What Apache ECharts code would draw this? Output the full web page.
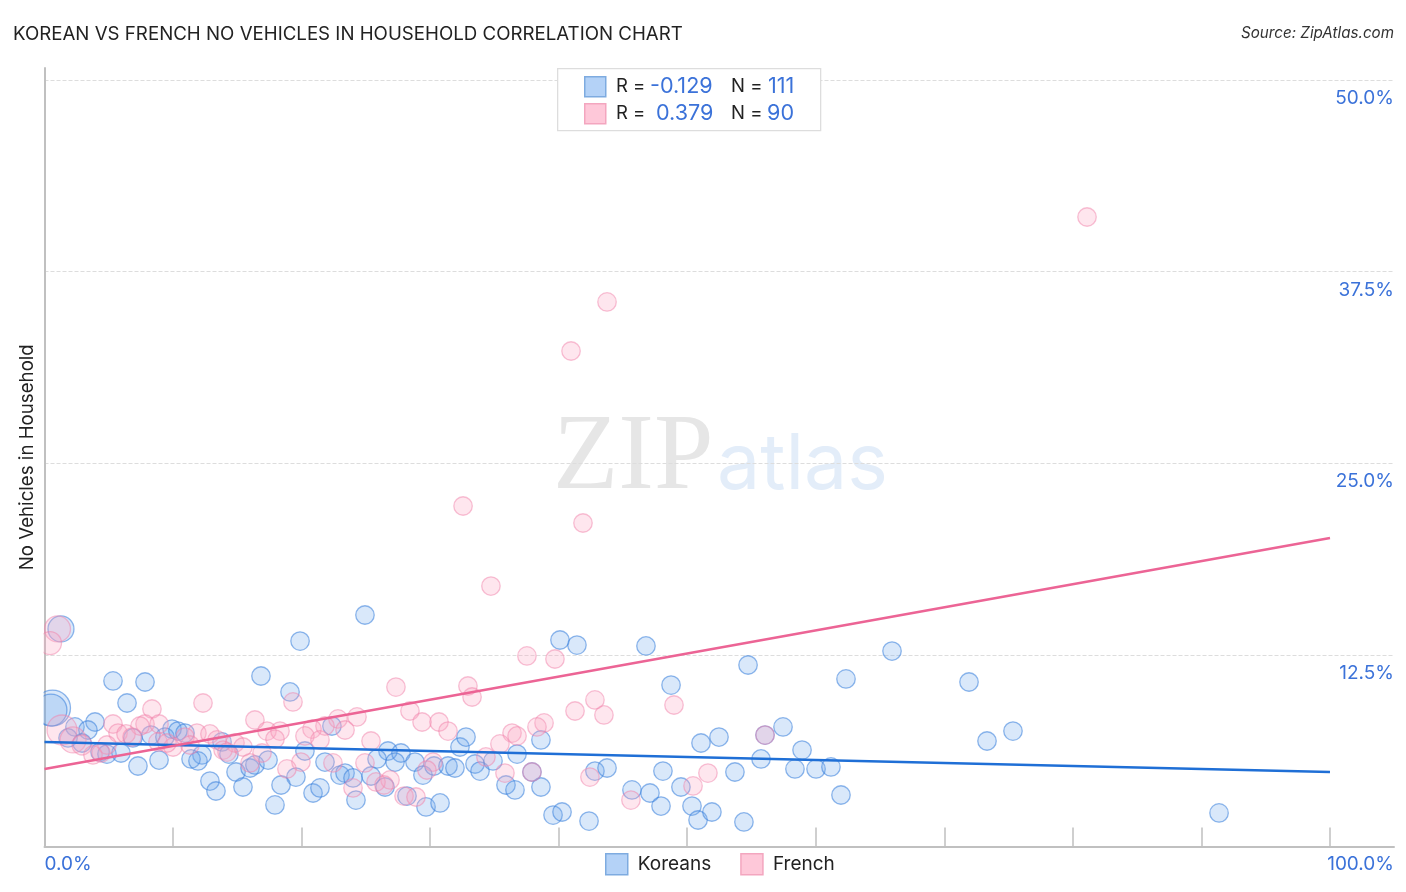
<!DOCTYPE html>
<html>
<head>
<meta charset="utf-8">
<style>html,body{margin:0;padding:0;background:#fff}#chart{width:1406px;height:892px}</style>
<script src="https://cdn.jsdelivr.net/npm/echarts@6/dist/echarts.min.js"></script>
</head>
<body>
<div id="chart"></div>
<script>
var koreanLargeX = [0.62, 0.5, 1.28];
var koreanLargeY = [9.03, 8.9, 14.19];
var koreanX = [24.93,19.88,5.33,7.82,16.84,6.42,19.10,3.93,2.37,3.38,1.83,2.92,4.32,4.86,5.95,7.27,8.91,8.28,6.88,9.92,9.37,10.38,10.93,12.25,11.40,11.94,12.87,13.34,14.90,15.44,13.81,14.35,15.99,16.37,17.39,20.26,19.56,18.40,17.93,20.89,21.43,21.82,22.36,22.99,23.38,24.00,24.23,25.40,26.72,27.73,25.87,27.27,28.82,26.49,28.20,29.68,30.77,29.44,30.30,31.39,31.93,32.32,32.79,33.49,33.88,34.89,36.76,35.90,36.60,38.62,37.92,38.62,40.10,41.42,46.79,48.74,39.56,40.26,42.36,42.82,43.76,45.70,47.10,47.96,48.11,49.51,50.37,50.84,51.07,51.92,54.41,53.71,52.47,54.73,55.74,56.05,57.45,58.38,58.93,60.02,61.18,61.96,62.35,65.93,71.92,73.32,75.34,91.37];
var koreanY = [15.10,13.40,10.80,10.73,11.12,9.36,10.08,8.12,7.80,7.60,7.08,6.75,6.16,6.03,6.10,5.25,5.64,7.27,7.08,7.66,7.14,7.53,7.40,5.97,5.71,5.58,4.27,3.62,4.86,3.88,6.82,6.03,5.12,5.32,5.64,6.23,4.53,4.01,2.71,3.49,3.82,5.51,7.86,4.66,4.79,4.47,3.03,4.60,6.23,6.10,5.71,5.51,5.51,3.88,3.29,2.58,2.84,4.66,5.25,5.25,5.12,6.49,7.14,5.38,4.92,5.58,6.03,4.01,3.69,6.95,4.86,3.88,13.47,13.14,13.08,10.53,2.05,2.25,1.66,4.92,5.12,3.69,3.49,2.64,4.92,3.88,2.64,1.73,6.75,2.25,1.60,4.86,7.14,11.84,5.71,7.27,7.80,5.06,6.29,5.06,5.19,3.36,10.93,12.75,10.73,6.88,7.53,2.19];
var frenchLargeX = [1.01, 0.43, 1.36, 2.22, 2.92];
var frenchLargeY = [14.19, 13.27, 7.60, 6.95, 6.62];
var frenchX = [5.33,8.36,12.33,19.33,16.37,7.82,7.43,8.91,5.72,6.34,6.81,11.86,12.87,17.31,18.32,17.93,22.83,24.31,21.82,23.38,20.81,20.26,21.43,25.40,4.86,3.77,4.40,8.83,10.00,9.53,10.93,11.32,13.42,14.82,15.44,13.89,14.20,15.99,16.92,19.95,18.86,22.44,24.93,24.00,27.34,28.43,29.37,30.69,31.39,32.94,33.26,37.53,39.71,42.82,41.27,43.52,48.97,38.86,38.31,36.37,36.76,35.43,34.34,26.88,25.79,26.41,27.97,28.90,30.22,29.75,35.82,37.92,42.43,45.62,50.45,51.61,56.05,81.10,43.76,40.96,32.56,41.89,34.73];
var frenchY = [7.99,8.97,9.36,9.43,8.25,7.99,7.86,7.99,7.40,7.34,7.14,7.40,7.34,7.53,7.53,7.01,8.32,8.45,7.86,7.60,7.66,7.21,6.95,6.88,6.62,5.97,6.10,6.82,6.49,6.75,7.14,6.62,6.95,6.75,6.49,6.29,6.16,5.45,6.10,5.51,5.06,5.45,5.45,3.82,10.40,8.84,8.12,8.12,7.53,10.47,9.75,12.43,12.23,9.56,8.84,8.58,9.23,8.06,7.80,7.40,7.21,6.69,5.84,4.34,4.21,4.01,3.29,3.23,5.51,4.99,4.79,4.86,4.53,3.03,3.95,4.79,7.27,41.06,35.52,32.32,22.21,21.10,16.99];
var koreanTrendX = [0, 100];
var koreanTrendY = [6.82, 4.86];
var frenchTrendX = [0, 100];
var frenchTrendY = [5.06, 20.12];
var yTicks = [12.5, 25, 37.5, 50];
var xTicks = [10, 20, 30, 40, 50, 60, 70, 80, 90, 100];

var fontName = 'Inter';
var labelBlue = '#3b72d9';
var koreanLargeSizes = [36, 32, 26];
var frenchLargeSizes = [26, 23, 30, 26, 20];

function pairs(xs, ys) {
	var out = [];
	for (var i = 0; i < xs.length; i++) {
		out.push([xs[i], ys[i]]);
	}
	return out;
}

var koreanStyle = {color: 'rgba(110,165,235,0.32)', borderColor: 'rgba(60,130,220,0.72)', borderWidth: 1.3};
var frenchStyle = {color: 'rgba(250,165,192,0.34)', borderColor: 'rgba(240,130,170,0.62)', borderWidth: 1.3};

function scatterSeries(name, data, size, style) {
	return {name: name, type: 'scatter', data: data, symbolSize: size, itemStyle: style, z: 3};
}
function trendSeries(name, data, color) {
	return {name: name, type: 'line', data: data, symbol: 'none', silent: true, z: 4, lineStyle: {color: color, width: 2.6}};
}
function indexedSize(sizes) {
	return function (val, params) { return sizes[params.dataIndex]; };
}

function legendLabel(x, y, text) {
	return {type: 'text', left: x, top: y + 1.5, z: 11, style: {text: text, fill: '#222', font: '18.5px ' + fontName}};
}
function legendValue(x, y, text) {
	return {type: 'text', left: x, top: y, z: 11, style: {text: text, fill: labelBlue, font: '21.6px ' + fontName}};
}
function legendSwatch(x, y, fill, stroke) {
	return {type: 'rect', left: x, top: y, z: 11, shape: {width: 21, height: 20}, style: {fill: fill, stroke: stroke, lineWidth: 1.5}};
}

var option = {
	animation: false,
	backgroundColor: '#fff',
	textStyle: {fontFamily: fontName},
	grid: {left: 44.5, right: 12, top: 68, bottom: 45.5},
	legend: {
		left: 600, top: 848, itemWidth: 22, itemHeight: 21, itemGap: 29,
		icon: 'rect',
		textStyle: {fontFamily: fontName, fontSize: 19, color: '#222', padding: [0, 0, 0, 5]},
		data: [
			{name: 'Koreans', itemStyle: {color: '#b4d2f7', borderColor: '#7eabe0', borderWidth: 1.5, opacity: 1}},
			{name: 'French', itemStyle: {color: '#fec8d9', borderColor: '#f3a6bf', borderWidth: 1.5, opacity: 1}}
		]
	},
	xAxis: {
		type: 'value', min: 0, max: 104.98,
		splitLine: {show: false},
		axisLine: {show: true, lineStyle: {color: '#c0c0c0', width: 2}},
		axisTick: {show: true, inside: true, length: 19, customValues: xTicks, lineStyle: {color: '#c0c0c0', width: 1.5}},
		axisLabel: {
			customValues: [0, 104.98], margin: 8,
			alignMinLabel: 'left', alignMaxLabel: 'right',
			color: labelBlue, fontSize: 19, fontFamily: fontName,
			formatter: function (v) { return v === 0 ? '0.0%' : '100.0%'; }
		}
	},
	yAxis: [{
		type: 'value', min: 0, max: 50.78, position: 'left',
		name: 'No Vehicles in Household', nameLocation: 'middle', nameGap: 8,
		nameTextStyle: {fontFamily: fontName, fontSize: 18.7, color: '#222'},
		axisLine: {show: true, onZero: false, lineStyle: {color: '#c0c0c0', width: 2}},
		axisTick: {show: false, customValues: yTicks},
		axisLabel: {show: false, customValues: yTicks},
		splitLine: {show: true, lineStyle: {color: '#ddd', type: 'dashed', width: 1}}
	}, {
		type: 'value', min: 0, max: 50.78, position: 'right',
		axisLine: {show: false},
		axisTick: {show: false, customValues: yTicks},
		splitLine: {show: false},
		axisLabel: {
			inside: true, customValues: yTicks, margin: 0,
			verticalAlign: 'top', padding: [9, 0, 0, 0],
			color: labelBlue, fontSize: 19, fontFamily: fontName,
			formatter: function (v) { return v.toFixed(1) + '%'; }
		}
	}],
	series: [
		scatterSeries('Koreans', pairs(koreanLargeX, koreanLargeY), indexedSize(koreanLargeSizes), koreanStyle),
		scatterSeries('Koreans', pairs(koreanX, koreanY), 18.5, koreanStyle),
		scatterSeries('French', pairs(frenchLargeX, frenchLargeY), indexedSize(frenchLargeSizes), frenchStyle),
		scatterSeries('French', pairs(frenchX, frenchY), 18.5, frenchStyle),
		trendSeries('Koreans trend', pairs(koreanTrendX, koreanTrendY), '#1f6fd6'),
		trendSeries('French trend', pairs(frenchTrendX, frenchTrendY), '#ec6495')
	],
	graphic: [
		// big circles get cut at the axis in the reference
		{type: 'rect', left: 0, top: 600, z: 5, shape: {width: 43.5, height: 140}, style: {fill: '#fff'}},
		{type: 'text', left: 13, top: 25, style: {text: 'KOREAN VS FRENCH NO VEHICLES IN HOUSEHOLD CORRELATION CHART', fill: '#222', font: '18.7px ' + fontName}},
		{type: 'text', right: 12, top: 26, style: {text: 'Source: ZipAtlas.com', fill: '#333', font: 'italic 15.2px ' + fontName}},
		{type: 'text', left: 553, top: 406, z: 0, style: {text: 'ZIP', fill: '#e6e6e6', font: '107px "Liberation Serif"'}},
		{type: 'text', left: 717, top: 427, z: 0, style: {text: 'atlas', fill: '#e3edf9', font: '77px ' + fontName}},
		{type: 'rect', left: 557, top: 68, z: 10, shape: {width: 263, height: 62}, style: {fill: '#fff', stroke: '#ddd', lineWidth: 1.3}},
		legendSwatch(584, 76, '#b4d2f7', '#7eabe0'),
		legendSwatch(584, 103, '#fec8d9', '#f3a6bf'),
		legendLabel(616, 75, 'R ='),
		legendValue(650, 75, '-0.129'),
		legendLabel(731, 75, 'N ='),
		legendValue(768, 75, '111'),
		legendLabel(616, 102, 'R ='),
		legendValue(656, 102, '0.379'),
		legendLabel(731, 102, 'N ='),
		legendValue(767, 102, '90')
	]
};

var myChart = echarts.init(document.getElementById('chart'));
myChart.setOption(option);
</script>
</body>
</html>
